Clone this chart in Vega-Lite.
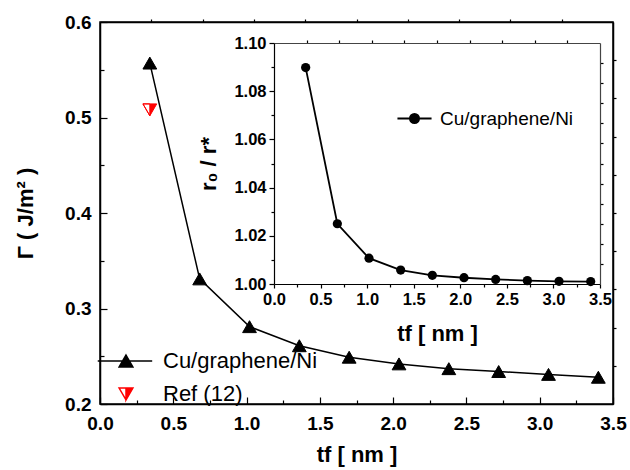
{
  "$schema": "https://vega.github.io/schema/vega-lite/v6.json",
  "autosize": {"type": "none"},
  "width": 513,
  "height": 382,
  "padding": {"left": 100, "top": 22, "right": 17, "bottom": 66},
  "background": "white",
  "config": {
    "view": {"stroke": "black", "strokeWidth": 1.5},
    "font": "Liberation Sans",
    "axis": {
      "grid": false,
      "domainColor": "black",
      "domainWidth": 1.5,
      "tickColor": "black",
      "tickWidth": 1.2,
      "labelFont": "Liberation Sans",
      "labelFontWeight": "bold",
      "labelColor": "black",
      "labelFlush": false,
      "labelOverlap": false,
      "titleFont": "Liberation Sans",
      "titleFontWeight": "bold",
      "titleColor": "black"
    },
    "legend": {
      "labelFont": "Liberation Sans",
      "labelColor": "black",
      "padding": 0
    }
  },
  "datasets": {
    "cu": [
      {"t": 0.34, "gamma": 0.557},
      {"t": 0.68, "gamma": 0.331},
      {"t": 1.02, "gamma": 0.281},
      {"t": 1.36, "gamma": 0.261},
      {"t": 1.70, "gamma": 0.249},
      {"t": 2.04, "gamma": 0.242},
      {"t": 2.38, "gamma": 0.237},
      {"t": 2.72, "gamma": 0.234},
      {"t": 3.06, "gamma": 0.231},
      {"t": 3.40, "gamma": 0.228}
    ],
    "ref": [
      {"t": 0.34, "gamma": 0.508, "series": "Ref (12)"}
    ],
    "inset": [
      {"t": 0.34, "r": 1.0898},
      {"t": 0.68, "r": 1.0250},
      {"t": 1.02, "r": 1.0107},
      {"t": 1.36, "r": 1.0058},
      {"t": 1.70, "r": 1.0036},
      {"t": 2.04, "r": 1.0026},
      {"t": 2.38, "r": 1.0019},
      {"t": 2.72, "r": 1.0014},
      {"t": 3.06, "r": 1.0011},
      {"t": 3.40, "r": 1.0010}
    ],
    "insetlegend": []
  },
  "resolve": {
    "scale": {"x": "independent", "y": "independent", "shape": "independent", "fill": "independent", "stroke": "independent"},
    "axis": {"x": "independent", "y": "independent"},
    "legend": {"shape": "independent", "fill": "independent", "stroke": "independent"}
  },
  "layer": [
    {
      "resolve": {"axis": {"x": "independent", "y": "independent"}},
      "layer": [
        {
          "data": {"name": "cu"},
          "mark": {"type": "line", "color": "black", "strokeWidth": 1.5},
          "encoding": {
            "x": {
              "field": "t", "type": "quantitative",
              "scale": {"domain": [0, 3.5], "nice": false, "zero": false},
              "axis": {
                "orient": "bottom",
                "values": [0, 0.5, 1, 1.5, 2, 2.5, 3, 3.5],
                "format": ".1f",
                "labelFontSize": 19,
                "tickSize": -7,
                "labelPadding": 17,
                "title": "tf [ nm ]",
                "titleFontSize": 22,
                "titlePadding": 11
              }
            },
            "y": {
              "field": "gamma", "type": "quantitative",
              "scale": {"domain": [0.2, 0.6], "nice": false, "zero": false},
              "axis": {
                "orient": "left",
                "values": [0.2, 0.3, 0.4, 0.5, 0.6],
                "format": ".1f",
                "labelFontSize": 19,
                "tickSize": -7,
                "labelPadding": 16,
                "title": "Γ ( J/m² )",
                "titleFontSize": 22,
                "titlePadding": 27
              }
            }
          }
        },
        {
          "data": {"name": "cu"},
          "mark": {"type": "point", "shape": "triangle-up", "filled": true, "size": 190, "color": "black", "stroke": "black", "strokeWidth": 1, "opacity": 1},
          "encoding": {
            "x": {
              "field": "t", "type": "quantitative",
              "scale": {"domain": [0, 3.5], "nice": false, "zero": false},
              "axis": {"orient": "top", "values": [0.35, 0.7, 1.05, 1.4, 1.75, 2.1, 2.45, 2.8, 3.15], "labels": false, "tickSize": 3, "title": null}
            },
            "y": {
              "field": "gamma", "type": "quantitative",
              "scale": {"domain": [0.2, 0.6], "nice": false, "zero": false},
              "axis": {"orient": "right", "values": [0.24, 0.28, 0.32, 0.36, 0.4, 0.44, 0.48, 0.52, 0.56], "labels": false, "tickSize": 3, "title": null}
            }
          }
        },
        {
          "data": {"name": "ref"},
          "mark": {"type": "point", "filled": true, "size": 190, "strokeWidth": 1, "opacity": 1},
          "encoding": {
            "x": {
              "field": "t", "type": "quantitative",
              "scale": {"domain": [0, 3.5], "nice": false, "zero": false},
              "axis": null
            },
            "y": {
              "field": "gamma", "type": "quantitative",
              "scale": {"domain": [0.2, 0.6], "nice": false, "zero": false},
              "axis": null
            },
            "shape": {
              "field": "series", "type": "nominal",
              "scale": {
                "domain": ["Cu/graphene/Ni", "Ref (12)"],
                "range": ["M-4.1,0H3.8M0,-0.866L1,0.866L-1,0.866Z", "M0,-0.866L1,-0.866L0,0.866Z M0,-0.866L-1,-0.866L0,0.866L-1,-0.866Z"]
              },
              "legend": {
                "title": null, "orient": "none", "legendX": 15, "legendY": 328,
                "labelFontSize": 22, "labelOffset": 26, "rowPadding": 11,
                "symbolSize": 190, "symbolStrokeWidth": 1.5
              }
            },
            "fill": {
              "field": "series", "type": "nominal",
              "scale": {"domain": ["Cu/graphene/Ni", "Ref (12)"], "range": ["black", "#ff0000"]},
              "legend": {
                "title": null, "orient": "none", "legendX": 15, "legendY": 328,
                "labelFontSize": 22, "labelOffset": 26, "rowPadding": 11,
                "symbolSize": 190, "symbolStrokeWidth": 1.5
              }
            },
            "stroke": {
              "field": "series", "type": "nominal",
              "scale": {"domain": ["Cu/graphene/Ni", "Ref (12)"], "range": ["black", "#ff0000"]},
              "legend": {
                "title": null, "orient": "none", "legendX": 15, "legendY": 328,
                "labelFontSize": 22, "labelOffset": 26, "rowPadding": 11,
                "symbolSize": 190, "symbolStrokeWidth": 1.5
              }
            }
          }
        },
        {
          "data": {"name": "cu"},
          "mark": {"type": "line", "opacity": 0},
          "encoding": {
            "x": {
              "field": "t", "type": "quantitative",
              "scale": {"domain": [0, 3.5], "nice": false, "zero": false},
              "axis": {"orient": "bottom", "values": [0.25, 0.75, 1.25, 1.75, 2.25, 2.75, 3.25], "labels": false, "domain": false, "tickSize": -4, "title": null}
            },
            "y": {
              "field": "gamma", "type": "quantitative",
              "scale": {"domain": [0.2, 0.6], "nice": false, "zero": false},
              "axis": {"orient": "left", "values": [0.25, 0.35, 0.45, 0.55], "labels": false, "domain": false, "tickSize": -4, "title": null}
            }
          }
        }
      ]
    },
    {
      "resolve": {"axis": {"x": "independent", "y": "independent"}},
      "layer": [
        {
          "data": {"name": "inset"},
          "mark": {"type": "line", "color": "black", "strokeWidth": 1.8},
          "encoding": {
            "x": {
              "field": "t", "type": "quantitative",
              "scale": {"domain": [0, 3.5], "range": [174, 500], "nice": false, "zero": false},
              "axis": {
                "orient": "bottom", "offset": -120,
                "values": [0, 0.5, 1, 1.5, 2, 2.5, 3, 3.5],
                "format": ".1f",
                "labelFontSize": 16.5,
                "tickSize": 4,
                "labelPadding": 3,
                "title": "tf [ nm ]",
                "titleFontSize": 22,
                "titlePadding": 16,
                "domainWidth": 1.2
              }
            },
            "y": {
              "field": "r", "type": "quantitative",
              "scale": {"domain": [1.0, 1.1], "range": [262, 21], "nice": false, "zero": false},
              "axis": {
                "orient": "left", "offset": -174,
                "values": [1.0, 1.02, 1.04, 1.06, 1.08, 1.1],
                "format": ".2f",
                "labelFontSize": 16.5,
                "tickSize": 5,
                "labelPadding": 3,
                "title": "r₀ / r*",
                "titleFontSize": 22,
                "titlePadding": 13,
                "domainWidth": 1.2
              }
            }
          }
        },
        {
          "data": {"name": "inset"},
          "mark": {"type": "point", "shape": "circle", "filled": true, "size": 85, "color": "black", "opacity": 1},
          "encoding": {
            "x": {
              "field": "t", "type": "quantitative",
              "scale": {"domain": [0, 3.5], "range": [174, 500], "nice": false, "zero": false},
              "axis": {"orient": "top", "offset": -21, "values": [0.35, 0.7, 1.05, 1.4, 1.75, 2.1, 2.45, 2.8, 3.15], "labels": false, "tickSize": 3, "title": null, "domainWidth": 1.2, "domainColor": "#444444"}
            },
            "y": {
              "field": "r", "type": "quantitative",
              "scale": {"domain": [1.0, 1.1], "range": [262, 21], "nice": false, "zero": false},
              "axis": {"orient": "right", "offset": -13, "values": [1.00833, 1.01667, 1.025, 1.03333, 1.04167, 1.05, 1.05833, 1.06667, 1.075, 1.08333, 1.09167], "labels": false, "tickSize": 3, "title": null, "domainWidth": 1.2, "domainColor": "#444444"}
            }
          }
        },
        {
          "data": {"name": "insetlegend"},
          "mark": {"type": "point", "filled": true, "size": 85, "opacity": 1},
          "encoding": {
            "shape": {
              "field": "curve", "type": "nominal",
              "scale": {"domain": ["Cu/graphene/Ni"], "range": ["M-3.7,0H3.7M1,0A1,1,0,1,1,-1,0A1,1,0,1,1,1,0Z"]},
              "legend": {
                "title": null, "orient": "none", "legendX": 305, "legendY": 87,
                "labelFontSize": 19, "labelOffset": 16, "symbolSize": 85, "symbolStrokeWidth": 1.8
              }
            },
            "fill": {
              "field": "curve", "type": "nominal",
              "scale": {"domain": ["Cu/graphene/Ni"], "range": ["black"]},
              "legend": {
                "title": null, "orient": "none", "legendX": 305, "legendY": 87,
                "labelFontSize": 19, "labelOffset": 16, "symbolSize": 85, "symbolStrokeWidth": 1.8
              }
            },
            "stroke": {
              "field": "curve", "type": "nominal",
              "scale": {"domain": ["Cu/graphene/Ni"], "range": ["black"]},
              "legend": {
                "title": null, "orient": "none", "legendX": 305, "legendY": 87,
                "labelFontSize": 19, "labelOffset": 16, "symbolSize": 85, "symbolStrokeWidth": 1.8
              }
            }
          }
        },
        {
          "data": {"name": "inset"},
          "mark": {"type": "line", "opacity": 0},
          "encoding": {
            "x": {
              "field": "t", "type": "quantitative",
              "scale": {"domain": [0, 3.5], "range": [174, 500], "nice": false, "zero": false},
              "axis": {"orient": "bottom", "offset": -120, "values": [0.25, 0.75, 1.25, 1.75, 2.25, 2.75, 3.25], "labels": false, "domain": false, "tickSize": 3, "title": null}
            },
            "y": {
              "field": "r", "type": "quantitative",
              "scale": {"domain": [1.0, 1.1], "range": [262, 21], "nice": false, "zero": false},
              "axis": {"orient": "left", "offset": -174, "values": [1.01, 1.03, 1.05, 1.07, 1.09], "labels": false, "domain": false, "tickSize": 3, "title": null}
            }
          }
        }
      ]
    }
  ]
}
